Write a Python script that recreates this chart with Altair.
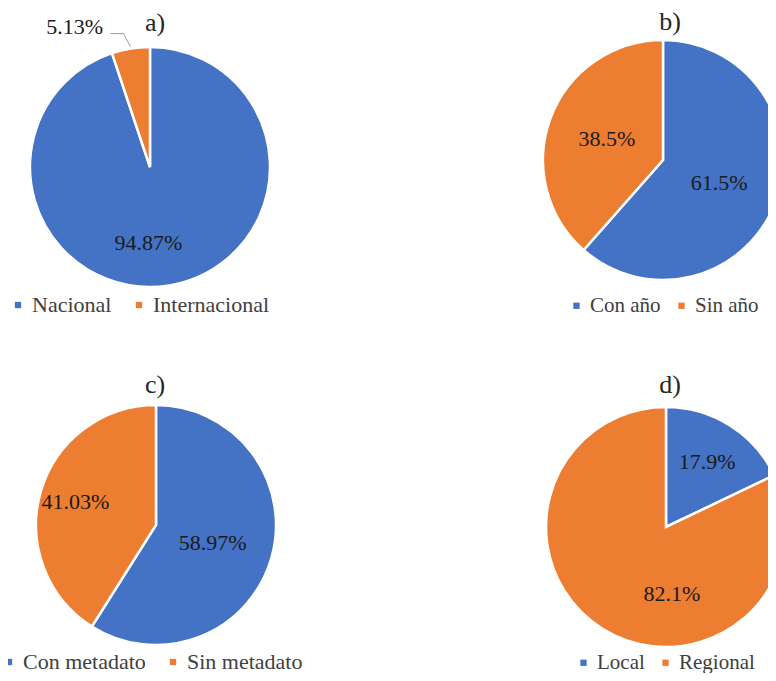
import altair as alt
import numpy as np
import pandas as pd

# ---------------- data ----------------
PANELS = ["a)", "b)", "c)", "d)"]
CATS = [
    ["Nacional", "Internacional"],
    ["Con año", "Sin año"],
    ["Con metadato", "Sin metadato"],
    ["Local", "Regional"],
]
VALUES = [
    [94.87, 5.13],
    [61.5, 38.5],
    [58.97, 41.03],
    [17.9, 82.1],
]
LABELS = [
    ["94.87%", "5.13%"],
    ["61.5%", "38.5%"],
    ["58.97%", "41.03%"],
    ["17.9%", "82.1%"],
]

# ---------------- layout / style ----------------
BLUE, ORANGE = "#4472C4", "#ED7D31"
FONT = "Liberation Serif"
W, H = 760, 665
R = 120
CENTERS = [(142, 159), (655, 152), (148, 517), (658, 519)]
TITLE_POS = [(147, 23), (662, 22), (147, 385), (662, 385)]
LEGEND_POS = [(-1, 286), (558, 287), (-10, 643), (565, 644)]
LEGEND_FONT = [22, 21, 22, 21]
LEGEND_PAD = [16, 10, 16, 10]
LABEL_STYLE = [
    [dict(radius=77, dx=-14), dict(radius=145, dx=-52, dy=3)],
    [dict(radius=60, dy=2), dict(radius=60)],
    [dict(radius=59, dy=2), dict(radius=84)],
    [dict(radius=77), dict(radius=77, dx=47, dy=2)],
]

theta_scale = alt.Scale(domain=[0, 100], range=[0, 2 * np.pi])

layers = []
for p, (title, cats, vals, labs) in enumerate(zip(PANELS, CATS, VALUES, LABELS)):
    cx, cy = CENTERS[p]
    v = np.array(vals, dtype=float)
    end = np.cumsum(v)
    start = end - v
    df = pd.DataFrame({
        "cat": cats,
        "value": v,
        "start": start,
        "end": end,
        "mid": (start + end) / 2,
        "label": labs,
        "idx": list(range(len(cats))),
    })
    lx, ly = LEGEND_POS[p]
    arc = alt.Chart(df).mark_arc(
        radius=R, stroke="white", strokeWidth=2.5, clip=True
    ).encode(
        theta=alt.Theta("start:Q", scale=theta_scale, stack=False),
        theta2="end:Q",
        color=alt.Color(
            "cat:N",
            scale=alt.Scale(domain=cats, range=[BLUE, ORANGE]),
            sort=cats,
            legend=alt.Legend(
                orient="none", legendX=lx, legendY=ly, direction="horizontal",
                title=None, symbolType="square", symbolSize=40,
                symbolStrokeWidth=0, labelFont=FONT,
                labelFontSize=LEGEND_FONT[p],
                labelColor="#404040", labelOffset=3,
                columnPadding=LEGEND_PAD[p],
            ),
        ),
        x=alt.value(cx),
        y=alt.value(cy),
    )
    layers.append(arc)

    for i in range(len(cats)):
        st = LABEL_STYLE[p][i]
        txt = alt.Chart(df[df["idx"] == i]).mark_text(
            font=FONT, fontSize=22, color="#1a1a1a",
            radius=st["radius"], dx=st.get("dx", 0), dy=st.get("dy", 0),
        ).encode(
            theta=alt.Theta("mid:Q", scale=theta_scale, stack=False),
            text="label:N",
            x=alt.value(cx),
            y=alt.value(cy),
        )
        layers.append(txt)

    tx, ty = TITLE_POS[p]
    ttl = alt.Chart(pd.DataFrame({"t": [title]})).mark_text(
        font=FONT, fontSize=26, color="#262626", baseline="alphabetic"
    ).encode(text="t:N", x=alt.value(tx), y=alt.value(ty))
    layers.append(ttl)

    if p == 0:
        # leader line for the small outside label (5.13%)
        mid = df.loc[1, "mid"] / 100 * 2 * np.pi
        ex, ey = cx + (R + 2) * np.sin(mid), cy - (R + 2) * np.cos(mid)
        lead = pd.DataFrame({
            "x": [ex, ex - 7, ex - 20],
            "y": [ey, ey - 13, ey - 13],
            "o": [0, 1, 2],
        })
        line = alt.Chart(lead).mark_line(color="#999999", strokeWidth=1).encode(
            x=alt.X("x:Q", scale=None),
            y=alt.Y("y:Q", scale=None),
            order="o:O",
        )
        layers.append(line)

chart = alt.layer(*layers).resolve_scale(color="independent").properties(
    width=W, height=H, padding=0,
    autosize=alt.AutoSizeParams(type="none"),
).configure_view(stroke=None)

chart.save("out.html", embed_options={"renderer": "svg", "actions": False})
